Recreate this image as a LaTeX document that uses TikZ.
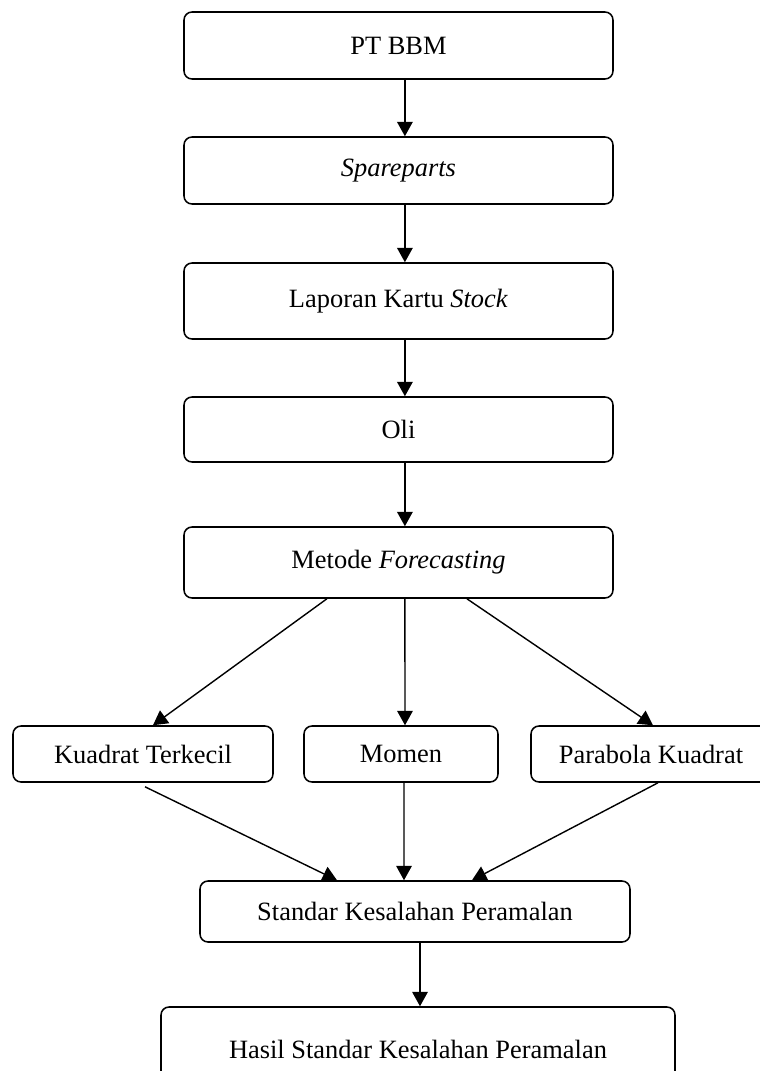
\documentclass[tikz,border=0pt]{standalone}
\usepackage{fontspec}
\setmainfont{Liberation Serif}
\usetikzlibrary{arrows.meta}
\tikzset{
  flowbox/.style={draw, line width=1.1pt, rounded corners=0.2cm, inner sep=0pt, font=\fontsize{18.8}{22}\selectfont},
  arr/.style={-{Triangle[length=3.6mm,width=3.9mm]}, line width=1pt}
}

\begin{document}
\begin{tikzpicture}
  \useasboundingbox (0,0) rectangle (19,-26.775);
  \clip (0,0) rectangle (19,-26.775);
  \node[flowbox, minimum width=10.725cm, minimum height=1.675cm] (ptbbm) at (9.9625,-1.1375) {PT BBM};
  \node[flowbox, minimum width=10.725cm, minimum height=1.675cm] (spare) at (9.9625,-4.2625) {\textit{Spareparts}};
  \node[flowbox, minimum width=10.725cm, minimum height=1.9cm] (kartu) at (9.9625,-7.525) {Laporan Kartu \textit{Stock}};
  \node[flowbox, minimum width=10.725cm, minimum height=1.625cm] (oli) at (9.9625,-10.7375) {Oli};
  \node[flowbox, minimum width=10.725cm, minimum height=1.775cm] (metode) at (9.9625,-14.0625) {Metode \textit{Forecasting}};
  \node[flowbox, minimum width=6.5cm, minimum height=1.4cm] (kuadrat) at (3.575,-18.85) {Kuadrat Terkecil};
  \node[flowbox, minimum width=4.85cm, minimum height=1.4cm] (momen) at (10.025,-18.85) {Momen};
  \node[flowbox, minimum width=6cm, minimum height=1.4cm] (parabola) at (16.275,-18.85) {Parabola Kuadrat};
  \node[flowbox, minimum width=10.75cm, minimum height=1.525cm] (standar) at (10.375,-22.7875) {Standar Kesalahan Peramalan};
  \node[flowbox, minimum width=12.85cm, minimum height=2.1cm] (hasil) at (10.45,-26.225) {Hasil Standar Kesalahan Peramalan};
  \draw[arr] ([xshift=0.16cm]ptbbm.south) -- ([xshift=0.16cm]spare.north);
  \draw[arr] ([xshift=0.16cm]spare.south) -- ([xshift=0.16cm]kartu.north);
  \draw[arr] ([xshift=0.16cm]kartu.south) -- ([xshift=0.16cm]oli.north);
  \draw[arr] ([xshift=0.16cm]oli.south) -- ([xshift=0.16cm]metode.north);
  \draw[arr] ([xshift=-1.79cm]metode.south) -- ([xshift=0.25cm]kuadrat.north);
  \draw[arr] ([xshift=0.16cm]metode.south) -- ([xshift=0.1cm]momen.north);
  \draw[arr] ([xshift=1.71cm]metode.south) -- ([xshift=0.05cm]parabola.north);
  \draw[arr] ([xshift=0.05cm,yshift=-0.1cm]kuadrat.south) -- ([xshift=-1.95cm]standar.north);
  \draw[arr] ([xshift=0.075cm]momen.south) -- ([xshift=-0.275cm]standar.north);
  \draw[arr] ([xshift=0.175cm]parabola.south) -- ([xshift=1.425cm]standar.north);
  \draw[arr] ([xshift=0.125cm]standar.south) -- ([xshift=0.05cm]hasil.north);
\end{tikzpicture}
\end{document}
